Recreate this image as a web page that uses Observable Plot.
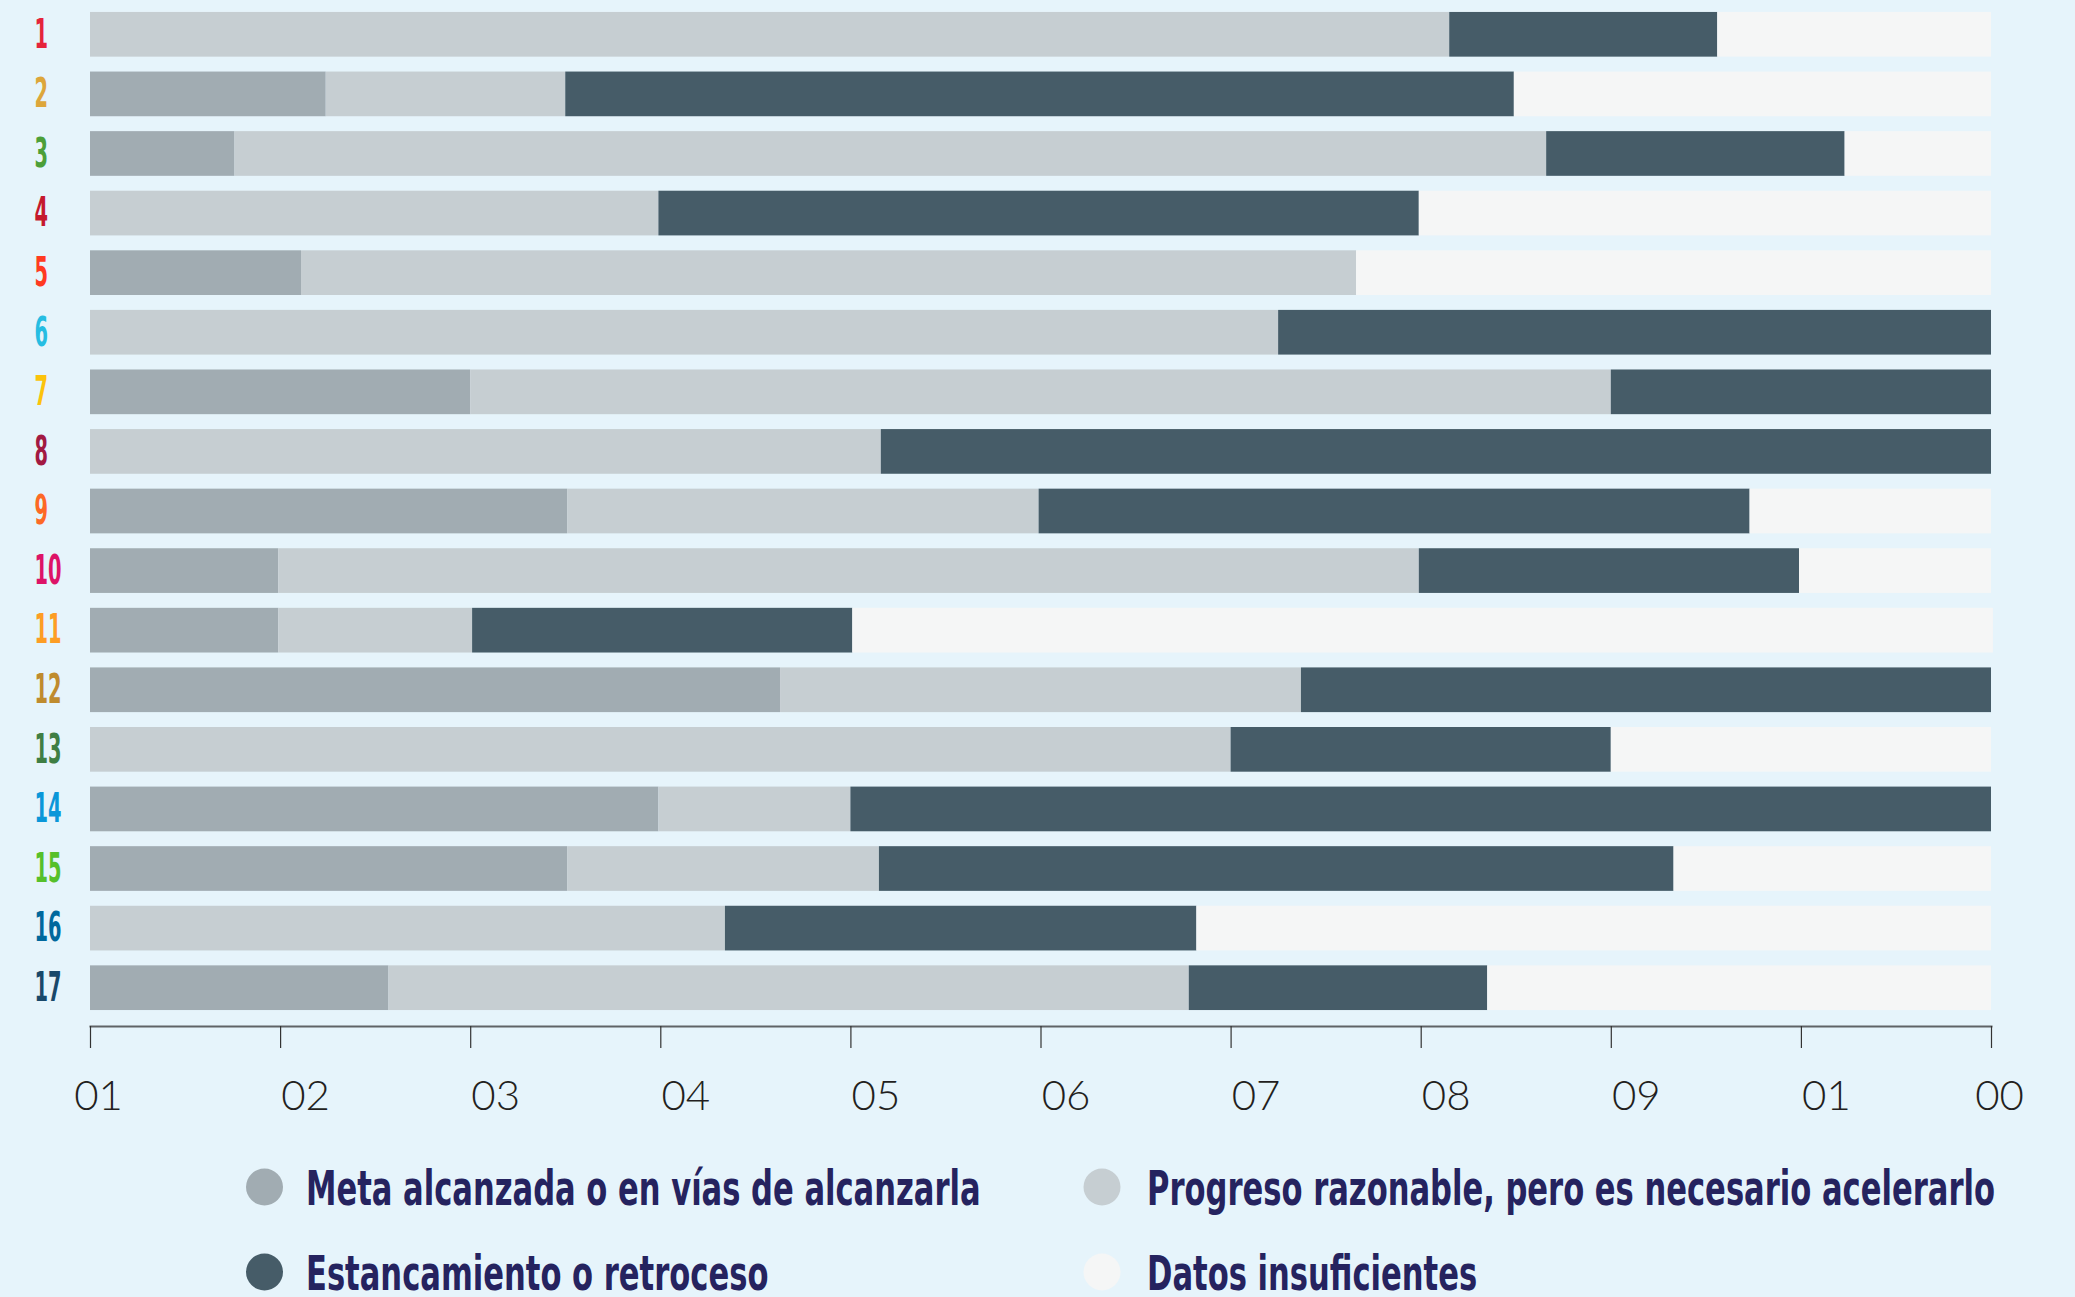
<!DOCTYPE html>
<html><head><meta charset="utf-8">
<script src="https://cdn.jsdelivr.net/npm/d3@7"></script>
<script src="https://cdn.jsdelivr.net/npm/@observablehq/plot@0.6"></script>
<style>
html,body{margin:0;padding:0;background:#e6f4fb;}
#chart,#legend{width:2075px;}
svg{display:block;}
</style></head><body><div id="chart"></div><div id="legend"></div>
<script>
const goals = ["1","2","3","4","5","6","7","8","9","10","11","12","13","14","15","16","17"];
const goalColors = ["#e5243b","#dda63a","#4c9f38","#c5192d","#ff3a21","#26bde2","#fcc30b","#a21942","#fd6925","#dd1367","#fd9d24","#bf8b2e","#3f7e44","#0a97d9","#56c02b","#00689d","#19486a"];
const statuses = ["Meta alcanzada o en vías de alcanzarla","Progreso razonable, pero es necesario acelerarlo","Estancamiento o retroceso","Datos insuficientes"];
const statusColors = ["#a1acb2","#c6ced2","#465c68","#f5f6f6"];
const meta          = [0,12.4,7.6,0,11.1,0,20.0,0,25.1,9.9,9.9,36.3,0,29.9,25.1,0,15.7];
const progreso      = [71.5,12.6,69.0,29.9,55.5,62.5,60.0,41.6,24.8,60.0,10.2,27.4,60.0,10.1,16.4,33.4,42.1];
const estancamiento = [14.1,49.9,15.7,40.0,0,37.5,20.0,58.4,37.4,20.0,20.0,36.3,20.0,60.0,41.8,24.8,15.7];
const datos         = [14.4,25.1,7.7,30.1,33.4,0,0,0,12.7,10.1,60.0,0,20.0,0,16.7,41.8,26.5];
const tickValues = [0,10,20,30,40,50,60,70,80,90,100];
const tickLabels = ["01","02","03","04","05","06","07","08","09","01","00"];

const series = [meta, progreso, estancamiento, datos];
const table = [];
goals.forEach((g, i) => series.forEach((arr, j) => table.push({goal: g, status: statuses[j], value: arr[i]})));

const fmt = d => tickLabels[tickValues.indexOf(d)];
const condensed = "'Liberation Sans Narrow','DejaVu Sans Condensed','Roboto',sans-serif";
const tickFont = "Lato, 'Open Sans', sans-serif";

const chart = Plot.plot({
  width: 2075, height: 1130,
  marginLeft: 90, marginRight: 84, marginTop: 6, marginBottom: 104,
  style: {background: "transparent", fontFamily: tickFont},
  x: {domain: [0, 100], axis: null, label: null},
  y: {domain: goals, paddingInner: 0.25, paddingOuter: 0.1, insetBottom: 10, round: false, axis: null, label: null},
  color: {domain: statuses, range: statusColors},
  marks: [
    Plot.barX(table, {x: "value", y: "goal", fill: "status", order: statuses}),
    Plot.frame({anchor: "bottom", stroke: "#5f6366", strokeWidth: 2}),
    Plot.axisX({ticks: tickValues, tickSize: 22, tickFormat: () => "", label: null, stroke: "#333", strokeWidth: 1.2}),
    Plot.axisX({ticks: tickValues.slice(1, -1), tickSize: 0, tickPadding: 54, dx: 25, tickFormat: fmt, label: null,
      fontSize: 42, fontWeight: 300, fill: "#231f20", fontFamily: tickFont}),
    Plot.axisX({ticks: [tickValues[0], tickValues[tickValues.length - 1]], tickSize: 0, tickPadding: 54, dx: 8, tickFormat: fmt, label: null,
      fontSize: 42, fontWeight: 300, fill: "#231f20", fontFamily: tickFont}),
    ...goals.map((g, i) => Plot.text([g], {y: d => d, frameAnchor: "left", dx: -56, textAnchor: "start",
      fill: goalColors[i], fontSize: 40, fontWeight: "bold", fontFamily: condensed}))
  ]
});
document.getElementById("chart").appendChild(chart);

// condense goal numbers
const labTexts = d3.select(chart).selectAll('g[aria-label="text"] text').nodes();
const ref10 = labTexts.find(t => t.textContent === "10");
const k1 = ref10 ? 27 / ref10.getComputedTextLength() : 1;
labTexts.forEach(t => { t.setAttribute("textLength", t.getComputedTextLength() * k1); t.setAttribute("lengthAdjust", "spacingAndGlyphs"); });

// legend
const leg = d3.select("#legend").append("svg").attr("width", 2075).attr("height", 167);
const colX = [264.5, 1102], textX = [306, 1147], rowY = [57, 142];
const items = statuses.map((s, i) => ({label: s, color: statusColors[i], col: i % 2, row: Math.floor(i / 2)}));
items.forEach(it => {
  leg.append("circle").attr("cx", colX[it.col]).attr("cy", rowY[it.row]).attr("r", 18.5).attr("fill", it.color);
  leg.append("text").attr("x", textX[it.col]).attr("y", rowY[it.row] + 17.5)
    .attr("fill", "#25235f").attr("font-size", 48).attr("font-weight", "bold")
    .attr("font-family", condensed).text(it.label);
});
const legTexts = leg.selectAll("text").nodes();
const k2 = 848 / legTexts[1].getComputedTextLength();
legTexts.forEach(t => { t.setAttribute("textLength", t.getComputedTextLength() * k2); t.setAttribute("lengthAdjust", "spacingAndGlyphs"); });
</script></body></html>
